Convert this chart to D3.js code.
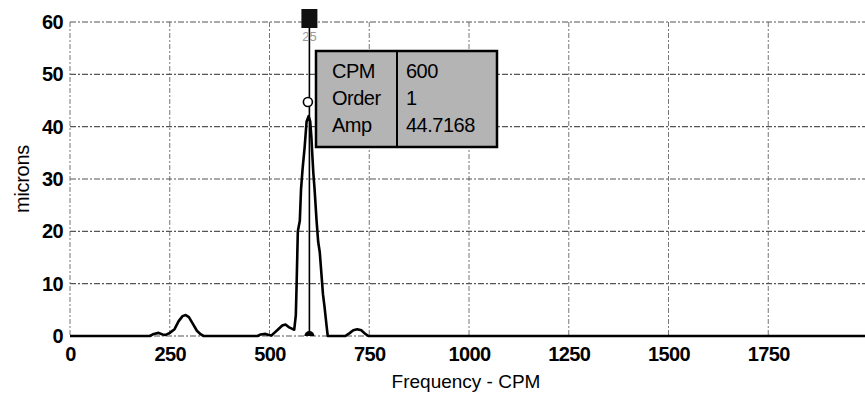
<!DOCTYPE html>
<html><head><meta charset="utf-8">
<script src="https://cdn.jsdelivr.net/npm/d3@7"></script>
<style>html,body{margin:0;padding:0;background:#fff;overflow:hidden}svg{display:block}</style>
</head><body>
<svg id="c" width="865" height="399"></svg>
<script>
// ---- data ----
const freqCPM = [0,200,210,222,232,240,250,262,272,282,290,298,308,318,328,335,470,478,490,498,505,512,522,532,540,548,556,562,566,568,571,576,579,581,583,588,593,598,602,605,607,610,613,618,622,626,631,634,638,643,646,690,700,710,720,730,740,748,2000];
const ampMicrons = [0,0,0.4,0.6,0.3,0.2,0.6,1.3,2.8,3.8,4.0,3.6,2.3,1.0,0.3,0,0,0.3,0.4,0.2,0.1,0.6,1.3,2.0,2.2,1.7,1.4,1.2,4,10,20,22,28,30,32,36,41,42,41,38,35,31,28,22,18,16,11,8,5.5,2,0,0,0.5,1.1,1.3,1.1,0.4,0,0];
const xTicks = [0,250,500,750,1000,1250,1500,1750];
const yTicks = [0,10,20,30,40,50,60];
const cursorCPM = 600, cursorOrder = 1, cursorAmp = 44.7168, cursorLabel = "25";
const tipLabels = ["CPM","Order","Amp"];
const tipValues = ["600","1","44.7168"];

const svg = d3.select("#c");
const x = d3.scaleLinear().domain([0,2000]).range([70,868]);
const y = d3.scaleLinear().domain([0,60]).range([336,22]);
const font = "'Liberation Sans', Arial, sans-serif";

// grid
const grid = svg.append("g");
grid.selectAll(".vg").data(xTicks).join("line")
  .attr("x1",d=>x(d)).attr("x2",d=>x(d)).attr("y1",y(60)).attr("y2",y(0))
  .attr("stroke","#777").attr("stroke-width",1).attr("stroke-dasharray","5,2,2,2");
grid.selectAll(".hg").data(yTicks).join("line")
  .attr("x1",x(0)).attr("x2",865).attr("y1",d=>y(d)).attr("y2",d=>y(d))
  .attr("stroke","#555").attr("stroke-width",1.2).attr("stroke-dasharray","6,2,2,2");

// axes (labels only)
const xAxis = svg.append("g").attr("transform",`translate(0,${y(0)})`)
  .call(d3.axisBottom(x).tickValues(xTicks).tickSize(0).tickPadding(11).tickFormat(d3.format("d")));
xAxis.select(".domain").remove();
xAxis.selectAll("text").attr("font-family",font).attr("font-size",20).attr("fill","#000")
  .attr("letter-spacing","-0.6").attr("font-weight","bold");
const yAxis = svg.append("g").attr("transform",`translate(${x(0)},0)`)
  .call(d3.axisLeft(y).tickValues(yTicks).tickSize(0).tickPadding(7).tickFormat(d3.format("d")));
yAxis.select(".domain").remove();
yAxis.selectAll("text").attr("font-family",font).attr("font-size",20).attr("fill","#000")
  .attr("font-weight","bold").attr("letter-spacing","-0.6");

// axis titles
svg.append("text").attr("x",(x(0)+x(2000))/2-3).attr("y",388).attr("text-anchor","middle")
  .attr("font-family",font).attr("font-size",19).attr("fill","#000").text("Frequency - CPM");
svg.append("text").attr("transform",`translate(29,${(y(0)+y(60))/2}) rotate(-90)`)
  .attr("text-anchor","middle").attr("font-family",font).attr("font-size",20).attr("fill","#000")
  .attr("letter-spacing","-0.3").text("microns");

// spectrum
const line = d3.line().x((d,i)=>x(freqCPM[i])).y(d=>y(d));
svg.append("path").datum(ampMicrons).attr("d",line)
  .attr("fill","none").attr("stroke","#000").attr("stroke-width",2.6).attr("stroke-linejoin","round");

// cursor
const cx = x(cursorCPM);
svg.append("line").attr("x1",cx).attr("x2",cx).attr("y1",y(60)).attr("y2",y(0))
  .attr("stroke","#000").attr("stroke-width",1.6);
svg.append("rect").attr("x",cx-8).attr("y",9).attr("width",16).attr("height",19).attr("fill","#111");
svg.append("text").attr("x",cx).attr("y",41).attr("text-anchor","middle").attr("font-family",font)
  .attr("font-size",13).attr("fill","#999").text(cursorLabel);
svg.append("circle").attr("cx",cx-1.5).attr("cy",y(cursorAmp)).attr("r",4.5)
  .attr("fill","#fff").attr("stroke","#000").attr("stroke-width",1.6);
svg.append("path").attr("d",d3.arc()({innerRadius:0,outerRadius:5,startAngle:-Math.PI/2,endAngle:Math.PI/2}))
  .attr("transform",`translate(${cx},${y(0)})`).attr("fill","#000");

// tooltip
const tip = svg.append("g");
tip.append("rect").attr("x",316).attr("y",51).attr("width",181).attr("height",96)
  .attr("fill","#b4b4b4").attr("stroke","#000").attr("stroke-width",2.5);
tip.append("line").attr("x1",397).attr("x2",397).attr("y1",51).attr("y2",147)
  .attr("stroke","#000").attr("stroke-width",2);
tip.selectAll(".tl").data(tipLabels).join("text")
  .attr("x",332).attr("y",(d,i)=>78+i*27).attr("font-family",font).attr("font-size",20)
  .attr("fill","#000").attr("letter-spacing","-0.5").text(d=>d);
tip.selectAll(".tv").data(tipValues).join("text")
  .attr("x",406).attr("y",(d,i)=>78+i*27).attr("font-family",font).attr("font-size",20)
  .attr("fill","#000").attr("letter-spacing","-0.5").text(d=>d);
</script>
</body></html>
